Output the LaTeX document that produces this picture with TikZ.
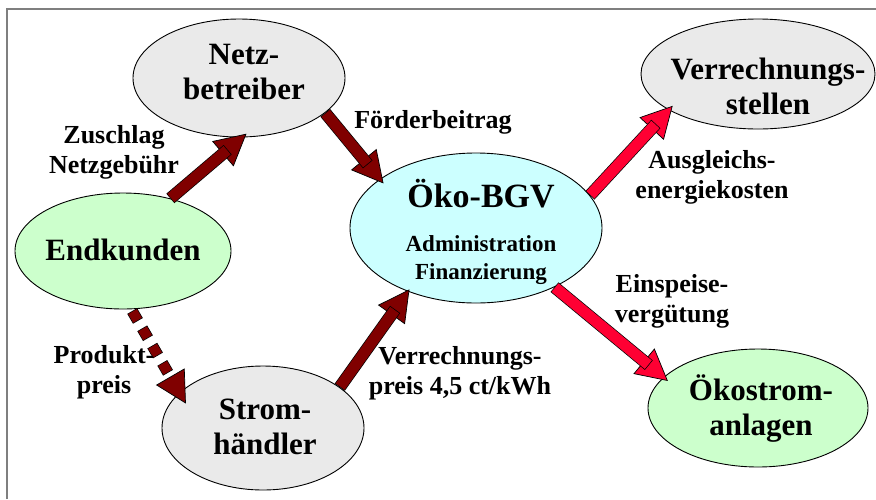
\documentclass[tikz,border=0pt]{standalone}
\usepackage{fontspec}
\setmainfont{Liberation Serif}
\usetikzlibrary{shapes.geometric,calc}
\definecolor{bgvMaroon}{HTML}{800000}
\definecolor{bgvRed}{HTML}{FF0033}
\definecolor{bgvGray}{HTML}{EAEAEA}
\definecolor{bgvGreen}{HTML}{CCFFCC}
\definecolor{bgvCyan}{HTML}{CCFFFF}
\definecolor{bgvFrame}{HTML}{7F7F7F}
\tikzset{
  bgv party/.style={ellipse, draw=black, line width=0.9pt, inner sep=0pt},
  bgv name/.style={font=\fontsize{31}{35}\selectfont\bfseries, align=center},
  bgv flow/.style={font=\fontsize{26}{30}\selectfont\bfseries, align=center},
}
% block arrow: [tip offset]{colour}{from}{to}
\newcommand\bgvarrow[4][-5pt]{%
  \coordinate (ba s) at (#3);
  \coordinate (ba t) at ($(#4)!#1!(#3)$);
  \coordinate (ba b) at ($(ba t)!30pt!(ba s)$);
  \coordinate (ba e) at ($(ba t)!24pt!(ba s)$);
  \filldraw[fill=#2, draw=black, line width=0.7pt] (ba t) -- ($(ba b)!16pt!90:(ba t)$) -- ($(ba b)!16pt!-90:(ba t)$) -- cycle;
  \draw[black, line width=12.4pt] (ba s) -- (ba e);
  \draw[#2, line width=11pt, shorten <=0.7pt, shorten >=0.7pt] (ba s) -- (ba e);
}
% same head, shaft made of square dots
\newcommand\bgvdotted[4][-5pt]{%
  \coordinate (ba s) at (#3);
  \coordinate (ba t) at ($(#4)!#1!(#3)$);
  \coordinate (ba b) at ($(ba t)!30pt!(ba s)$);
  \filldraw[fill=#2, draw=black, line width=0.7pt] (ba t) -- ($(ba b)!16pt!90:(ba t)$) -- ($(ba b)!16pt!-90:(ba t)$) -- cycle;
  \draw[black, line width=11.4pt, dash pattern=on 11.4pt off 8.6pt, shorten <=2pt] (ba s) -- (ba b);
  \draw[#2, line width=10pt, dash pattern=on 10pt off 10pt, shorten <=2.7pt] (ba s) -- (ba b);
}

\begin{document}
\begin{tikzpicture}[x=1pt,y=-1pt]
\useasboundingbox (0,0) rectangle (876,499);
\draw[bgvFrame, line width=1.5pt] (7,499) -- (7,9) -- (876,9);

% parties
\node[bgv party, fill=bgvGray, minimum width=212pt, minimum height=118pt] (netz) at (239,78) {};
\node[bgv party, fill=bgvGreen, minimum width=216pt, minimum height=116pt] (endk) at (123,251) {};
\node[bgv party, fill=bgvGray, minimum width=202pt, minimum height=124pt] (strom) at (263,428) {};
\node[bgv party, fill=bgvCyan, minimum width=252pt, minimum height=150pt] (bgv) at (476,228) {};
\node[bgv party, fill=bgvGray, minimum width=234pt, minimum height=110pt] (verr) at (758,74) {};
\node[bgv party, fill=bgvGreen, minimum width=220pt, minimum height=118pt] (oeko) at (758,408) {};

\node[bgv name] (netz text) at (244,72) {Netz-\\betreiber};
\node[bgv name] (endk text) at (123,249.5) {Endkunden};
\node[bgv name] (strom text) at (265,427) {Strom-\\händler};
\node[bgv name] (verr text) at (768,86) {Verrechnungs-\\stellen};
\node[bgv name] (oeko text) at (761,409) {Ökostrom-\\anlagen};
\node[font=\fontsize{34}{40}\selectfont\bfseries] (bgv title) at (481,194) {Öko-BGV};
\node[font=\fontsize{23}{28}\selectfont\bfseries, align=center] (bgv tasks) at (481,260.5) {Administration\\Finanzierung};

% money flows
\bgvarrow{bgvMaroon}{endk.48}{netz.-87}
\bgvarrow{bgvMaroon}{netz.-22}{bgv.153}
\bgvarrow[-2pt]{bgvMaroon}{strom.28}{bgv.-137}
\bgvarrow{bgvRed}{bgv.16}{verr.-158}
\bgvarrow{bgvRed}{bgv.-37}{oeko.162}
\bgvdotted[-12pt]{bgvMaroon}{endk.-82}{strom.157}

\node[bgv flow] (zuschlag) at (114,152) {Zuschlag\\Netzgebühr};
\node[bgv flow] (foerder) at (433,122) {Förderbeitrag};
\node[bgv flow] (ausgleich) at (712,177) {Ausgleichs-\\energiekosten};
\node[bgv flow] (einspeise) at (672,301) {Einspeise-\\vergütung};
\node[bgv flow] (produkt) at (104,372) {Produkt-\\preis};
\node[bgv flow] (vpreis) at (460,373) {Verrechnungs-\\preis 4,5 ct/kWh};
\end{tikzpicture}
\end{document}
